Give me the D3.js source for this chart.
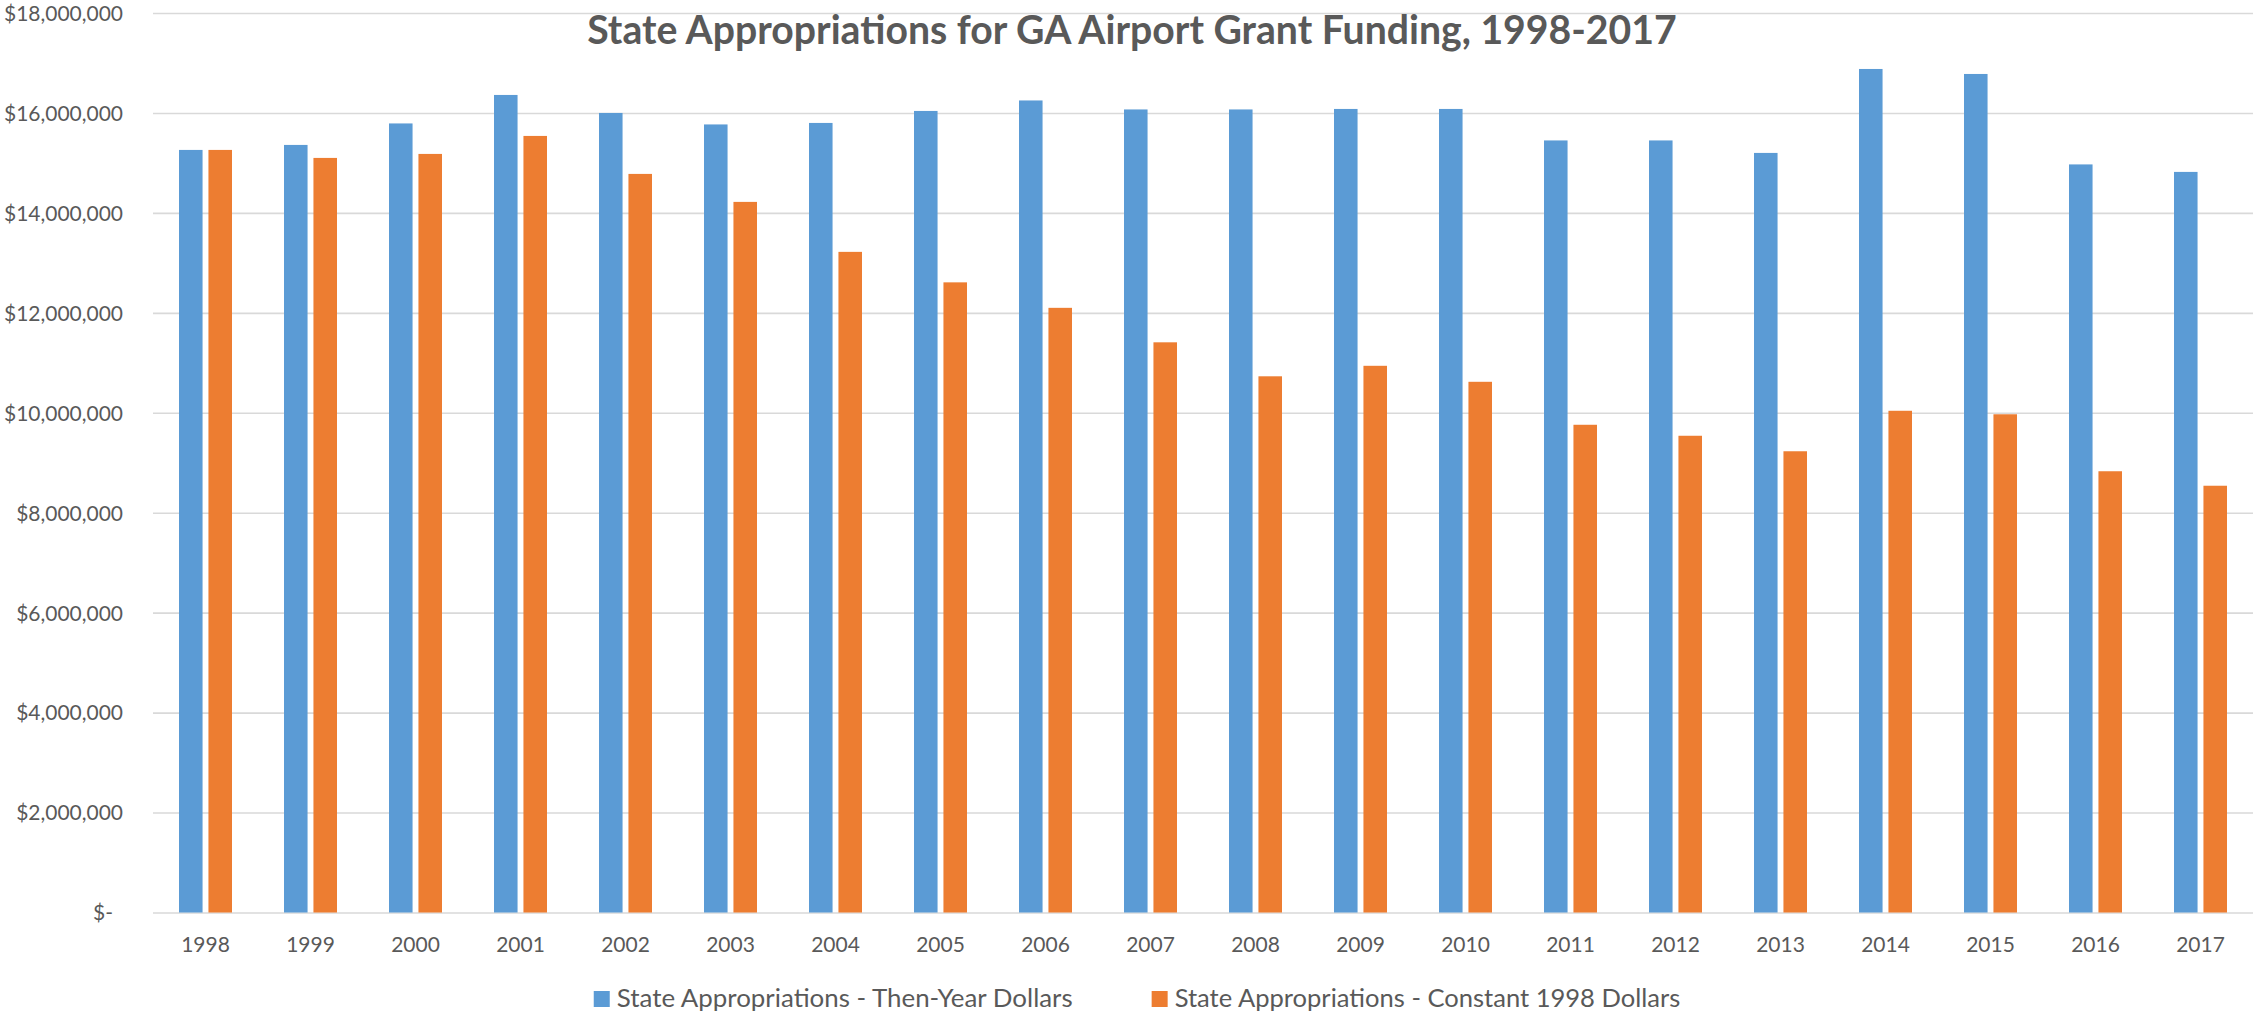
<!DOCTYPE html>
<html>
<head>
<meta charset="utf-8">
<script src="https://cdn.jsdelivr.net/npm/d3@7"></script>
<style>
  html, body { margin: 0; padding: 0; background: #fff; }
  svg { display: block; font-family: Lato, "Open Sans", sans-serif; }
</style>
</head>
<body>
<svg id="chart" width="2255" height="1013"></svg>
<script>
// ---------- DATA ----------
const years = ["1998","1999","2000","2001","2002","2003","2004","2005","2006","2007",
               "2008","2009","2010","2011","2012","2013","2014","2015","2016","2017"];
const thenYear = [15260000,15360000,15790000,16360000,16000000,15770000,15800000,16040000,16250000,16070000,
                  16070000,16080000,16080000,15450000,15450000,15200000,16880000,16780000,14970000,14820000];
const constant1998 = [15260000,15100000,15180000,15540000,14780000,14220000,13220000,12610000,12100000,11410000,
                      10730000,10940000,10620000,9760000,9540000,9230000,10040000,9970000,8830000,8540000];
const seriesNames = ["State Appropriations - Then-Year Dollars", "State Appropriations - Constant 1998 Dollars"];
const yTicks = [0,2000000,4000000,6000000,8000000,10000000,12000000,14000000,16000000,18000000];
const titleText = "State Appropriations for GA Airport Grant Funding, 1998-2017";

// ---------- LAYOUT ----------
const W = 2255, H = 1013;
const plot = { left: 153, right: 2253, top: 13, bottom: 912.5 };
const colors = ["#5B9BD5", "#ED7D31"];
const textColor = "#595959";

const svg = d3.select("#chart");

function fitFont(sel, target, base) {
  sel.style("font-size", base + "px");
  const w = sel.node().getComputedTextLength();
  const s = base * target / w;
  sel.style("font-size", s + "px");
  return s;
}

const x0 = d3.scaleBand().domain(years).range([plot.left, plot.right]).padding(0);
const x1 = d3.scaleBand().domain([0, 1]).range([26, 79]).paddingInner(0.2);
const y = d3.scaleLinear().domain([0, 18000000]).range([plot.bottom, plot.top]);

// measure axis font size
const probe = svg.append("text").text("$18,000,000").attr("font-family", "Lato");
const axisSize = fitFont(probe, 119, 22);
probe.remove();

// ---------- Gridlines + y axis ----------
const yAxis = d3.axisLeft(y)
  .tickValues(yTicks)
  .tickSize(-(plot.right - plot.left))
  .tickPadding(30)
  .tickFormat(v => v === 0 ? "$-" : "$" + d3.format(",")(v));

const gy = svg.append("g")
  .attr("transform", `translate(${plot.left},0)`)
  .call(yAxis);
gy.select(".domain").remove();
gy.selectAll(".tick line").attr("stroke", "#d9d9d9").attr("stroke-width", 1.6);
gy.selectAll(".tick text")
  .attr("fill", textColor)
  .style("font-size", axisSize + "px")
  .attr("font-family", "Lato")
  .attr("dy", "0.35em");
gy.selectAll(".tick").filter(d => d === 0).select("text").attr("x", -40);

// ---------- Bars ----------
const series = [thenYear, constant1998];
const groups = svg.append("g")
  .selectAll("g")
  .data(years)
  .join("g")
  .attr("transform", d => `translate(${x0(d)},0)`);

groups.selectAll("rect")
  .data((d, i) => series.map((s, k) => ({ k, v: s[i] })))
  .join("rect")
  .attr("x", d => x1(d.k))
  .attr("width", x1.bandwidth())
  .attr("y", d => y(d.v))
  .attr("height", d => y(0) - y(d.v))
  .attr("fill", d => colors[d.k]);

// ---------- X axis labels ----------
const xAxis = d3.axisBottom(x0).tickSize(0).tickPadding(0);
const gx = svg.append("g")
  .attr("transform", `translate(0,${plot.bottom})`)
  .call(xAxis);
gx.select(".domain").remove();
gx.selectAll(".tick text")
  .attr("fill", textColor)
  .attr("font-family", "Lato")
  .style("font-size", axisSize + "px")
  .attr("dy", null)
  .attr("y", 952 - plot.bottom);

// ---------- Title ----------
const title = svg.append("text")
  .attr("x", 1132)
  .attr("y", 44)
  .attr("text-anchor", "middle")
  .attr("fill", textColor)
  .attr("font-weight", "bold")
  .attr("font-family", "Lato")
  .text(titleText);
fitFont(title, 1090, 36);

// ---------- Legend ----------
const legend = svg.append("g");
const targets = [456, 506];
const sq = 16, gapSq = 6, gapItem = 79;
const items = seriesNames.map((name, k) => {
  const g = legend.append("g");
  g.append("rect").attr("width", sq).attr("height", sq).attr("y", 991).attr("fill", colors[k]);
  const t = g.append("text")
    .attr("x", sq + gapSq + 1)
    .attr("y", 1007)
    .attr("fill", textColor)
    .attr("font-family", "Lato")
    .text(name);
  fitFont(t, targets[k], 26);
  return { g, w: sq + gapSq + 1 + t.node().getComputedTextLength() };
});
const total = items[0].w + gapItem + items[1].w;
let lx = 1137 - total / 2;
items.forEach(it => {
  it.g.attr("transform", `translate(${lx},0)`);
  lx += it.w + gapItem;
});
</script>
</body>
</html>
